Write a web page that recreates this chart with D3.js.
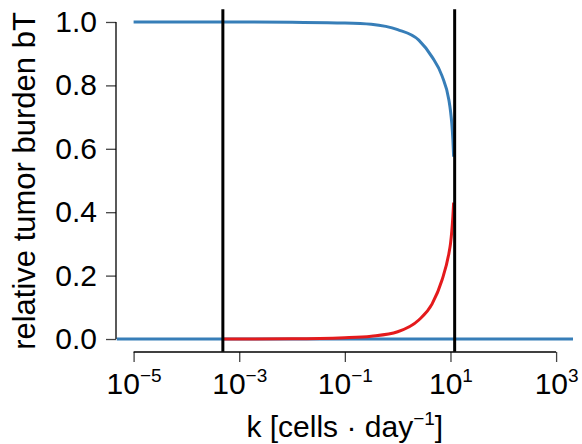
<!DOCTYPE html>
<meta charset="utf-8">
<style>
    body{ margin:0; background:#fff; }
    svg{ display:block; font-family:"Liberation Sans", Arial, sans-serif; }
    .tick text{ fill:#000; }
</style>
<body>
<svg id="chart" width="582" height="444"></svg>
</body>
<script src="https://d3js.org/d3.v7.min.js"></script>
<script>
var blueLogK = [-5, -3, -2, -1, -0.5, 0, 0.4, 0.65, 0.84, 0.97, 1.0, 1.025, 1.045, 1.06];
var blueVal  = [1.0, 1.0, 0.999, 0.997, 0.993, 0.976, 0.943, 0.89, 0.83, 0.754, 0.72, 0.68, 0.63, 0.575];

var redLogK = [-3.31, -2, -1, -0.5, 0, 0.4, 0.65, 0.84, 0.97, 1.0, 1.025, 1.045, 1.06];
var redVal  = [0.0, 0.0005, 0.004, 0.009, 0.023, 0.06, 0.11, 0.186, 0.27, 0.30, 0.34, 0.385, 0.43];

var zeroVal = 0;                       // blue line at bT = 0 across the whole range
var thresholds = [4.9e-4, 12];         // vertical black lines
var xTicks = [-5, -3, -1, 1, 3];       // exponents
var yTicks = [0, 0.2, 0.4, 0.6, 0.8, 1.0];

var svg = d3.select("#chart");

var x = d3.scaleLog()
    .domain([Math.pow(10, -5.32), Math.pow(10, 3.32)])
    .range([116.7, 573]);
var y = d3.scaleLinear()
    .domain([-0.04, 1.04])
    .range([351.7, 9.3]);

var blueData = blueLogK.map(function(d, i){ return {k: Math.pow(10, d), v: blueVal[i]}; });
var redData = redLogK.map(function(d, i){ return {k: Math.pow(10, d), v: redVal[i]}; });

var line = d3.line()
    .x(function(d){ return x(d.k); })
    .y(function(d){ return y(d.v); })
    .curve(d3.curveMonotoneX);

// zero line
svg.append("line")
    .attr("x1", x.range()[0]).attr("x2", x.range()[1])
    .attr("y1", y(zeroVal)).attr("y2", y(zeroVal))
    .attr("stroke", "#377EB8").attr("stroke-width", 3);

svg.append("path").datum(blueData)
    .attr("d", line)
    .attr("fill", "none").attr("stroke", "#377EB8").attr("stroke-width", 3);

svg.append("path").datum(redData)
    .attr("d", line)
    .attr("fill", "none").attr("stroke", "#E41A1C").attr("stroke-width", 3);

svg.selectAll(".vline")
    .data(thresholds)
    .enter().append("line")
    .attr("class", "vline")
    .attr("x1", function(d){ return x(d); }).attr("x2", function(d){ return x(d); })
    .attr("y1", y.range()[1]).attr("y2", y.range()[0])
    .attr("stroke", "#000").attr("stroke-width", 3);

// x axis
var xAxis = svg.append("g")
    .attr("transform", "translate(0,352)")
    .call(d3.axisBottom(x)
        .tickValues(xTicks.map(function(e){ return Math.pow(10, e); }))
        .tickSize(10)
        .tickFormat(""));
xAxis.select(".domain").remove();
xAxis.selectAll(".tick line").attr("stroke", "#444").attr("stroke-width", 1.3);
xAxis.append("line")
    .attr("x1", x(1e-5)).attr("x2", x(1e3))
    .attr("stroke", "#000").attr("stroke-width", 1.3);
xAxis.selectAll(".tick text").remove();
xAxis.selectAll(".tick").each(function(d, i){
    var t = d3.select(this).append("text")
        .attr("y", 42)
        .attr("text-anchor", "middle")
        .attr("font-size", 30)
        .attr("fill", "#000");
    t.append("tspan").text("10");
    t.append("tspan").attr("dy", -12.5).attr("font-size", 19)
        .text((xTicks[i] < 0 ? "\u2212" : "") + Math.abs(xTicks[i]));
});

// y axis
var yAxis = svg.append("g")
    .attr("transform", "translate(116,0)")
    .call(d3.axisLeft(y)
        .tickValues(yTicks)
        .tickSize(10)
        .tickPadding(9)
        .tickFormat(d3.format(".1f")));
yAxis.select(".domain").remove();
yAxis.selectAll(".tick line").attr("stroke", "#444").attr("stroke-width", 1.3);
yAxis.selectAll(".tick text").attr("font-size", 30).attr("font-family", "Liberation Sans, Arial, sans-serif");
yAxis.append("line")
    .attr("y1", y(0)).attr("y2", y(1))
    .attr("stroke", "#000").attr("stroke-width", 1.3);

// axis titles
var xt = svg.append("text")
    .attr("x", 344.8).attr("y", 437)
    .attr("text-anchor", "middle")
    .attr("font-size", 30);
xt.append("tspan").text("k [cells \u00b7 day");
xt.append("tspan").attr("dy", -12.5).attr("font-size", 19).text("\u22121");
xt.append("tspan").attr("dy", 12.5).text("]");

svg.append("text")
    .attr("transform", "translate(35,181) rotate(-90)")
    .attr("text-anchor", "middle")
    .attr("font-size", 31)
    .text("relative tumor burden bT");
</script>
